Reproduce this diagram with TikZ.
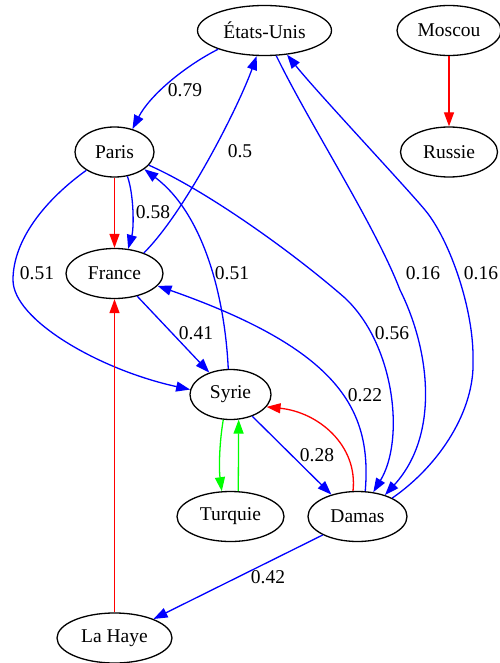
\documentclass[tikz,border=0pt]{standalone}
\usepackage{fontspec}
\setmainfont{Liberation Serif}
\usetikzlibrary{arrows.meta}
\usetikzlibrary{shapes.geometric}
\definecolor{bl}{HTML}{0000FF}
\definecolor{re}{HTML}{FF0000}
\definecolor{gr}{HTML}{00FF00}

\begin{document}
\begin{tikzpicture}[x=1pt, y=-1pt,
  pays/.style={draw=black, ellipse, line width=1.3pt, minimum height=50pt, inner sep=0pt, font=\fontsize{19.5}{23}\selectfont},
  lien/.style={line width=1.3pt, -{Triangle[length=14pt, width=10pt]}},
  poids/.style={inner sep=0pt, font=\fontsize{19.5}{23}\selectfont}]
  \useasboundingbox (0,0) rectangle (499,663);

  \node[pays, minimum width=134pt] (eu) at (264.5,30.5) {États-Unis};
  \node[pays, minimum width=104pt] (mo) at (449,30.5) {Moscou};
  \node[pays, minimum width=79pt] (pa) at (114.5,152) {Paris};
  \node[pays, minimum width=97pt] (ru) at (449,152) {Russie};
  \node[pays, minimum width=97pt] (fr) at (114.5,273.5) {France};
  \node[pays, minimum width=81pt] (sy) at (230.5,394.5) {Syrie};
  \node[pays, minimum width=107pt] (tu) at (230.5,516.5) {Turquie};
  \node[pays, minimum width=99pt] (da) at (357.5,516.5) {Damas};
  \node[pays, minimum width=115pt] (lh) at (114.5,638) {La Haye};

  \draw[lien, bl] (eu.202) .. controls (185,66) and (150,95) .. (pa.52);
  \draw[lien, bl] (fr.35) .. controls (185,212) and (238,108) .. (eu.253);
  \draw[lien, bl] (eu.295) .. controls (310,125) and (375,225) .. (400,290) .. controls (430,350) and (440,435) .. (da.38);
  \draw[lien, bl] (da.28) .. controls (440,465) and (475,410) .. (473,360) .. controls (474,310) and (450,240) .. (425,210) .. controls (405,186) and (315,90) .. (eu.313);
  \draw[lien, re] (mo) -- (ru);
  \draw[lien, re] (pa) -- (fr);
  \draw[lien, bl] (pa.298) .. controls (134,195) and (134,228) .. (fr.61);
  \draw[lien, bl] (pa.213) .. controls (45,200) and (13,240) .. (13,280) .. controls (13,320) and (100,370) .. (sy.173);
  \draw[lien, bl] (sy.95) .. controls (225,300) and (205,215) .. (pa.330);
  \draw[lien, bl] (pa.339) .. controls (205,190) and (290,250) .. (345,298) .. controls (395,345) and (405,440) .. (da.57);
  \draw[lien, bl] (fr.315) -- (sy.134);
  \draw[lien, bl] (sy.315) -- (da.140);
  \draw[lien, re] (da.100) .. controls (358,445) and (318,412) .. (sy.341);
  \draw[lien, gr] (sy.254) .. controls (219,445) and (219,470) .. (tu.109);
  \draw[lien, gr] (tu.73) -- (sy.288);
  \draw[lien, bl] (da.208) -- (lh.26);
  \draw[lien, re] (lh) -- (fr);
  \draw[lien, bl] (da.73) .. controls (372,410) and (340,350) .. (fr.344);

  \node[poids] (p079) at (185,90) {0.79};
  \node[poids] (p05) at (240,151) {0.5};
  \node[poids] (p058) at (153,212) {0.58};
  \node[poids] (p051a) at (37,273) {0.51};
  \node[poids] (p051b) at (232,273) {0.51};
  \node[poids] (p016a) at (423,273) {0.16};
  \node[poids] (p016b) at (481,273) {0.16};
  \node[poids] (p041) at (196,333) {0.41};
  \node[poids] (p056) at (392,333) {0.56};
  \node[poids] (p022) at (365,395) {0.22};
  \node[poids] (p028) at (317,455) {0.28};
  \node[poids] (p042) at (268,577) {0.42};
\end{tikzpicture}
\end{document}
